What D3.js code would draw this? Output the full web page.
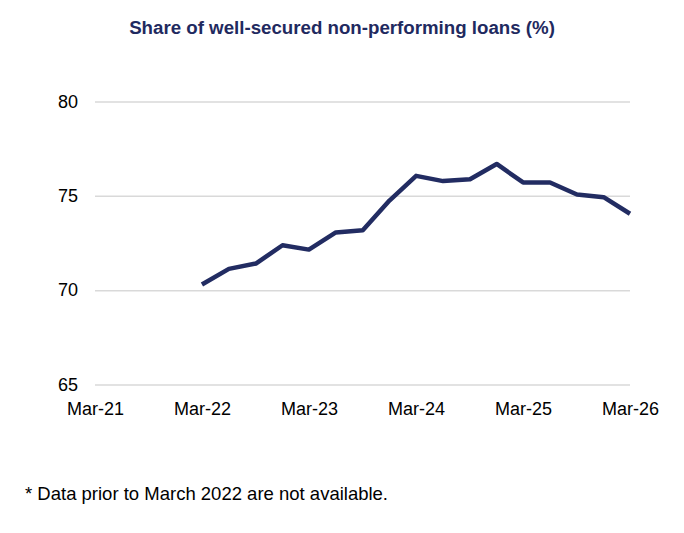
<!DOCTYPE html>
<html>
<head>
<meta charset="utf-8">
<script src="https://cdn.jsdelivr.net/npm/d3@7"></script>
<style>
  body { margin: 0; background: #fff; }
  svg text { font-family: "Liberation Sans", Arial, sans-serif; }
</style>
</head>
<body>
<svg id="chart" width="684" height="533"></svg>
<script>
// quarterly data, Mar-22 to Mar-26
const quarters = ["2022-03", "2022-06", "2022-09", "2022-12", "2023-03", "2023-06", "2023-09", "2023-12",
    "2024-03", "2024-06", "2024-09", "2024-12", "2025-03", "2025-06", "2025-09", "2025-12", "2026-03"];
const shareValues = [70.3, 71.13, 71.41, 72.38, 72.15, 73.06, 73.17, 74.75,
    76.06, 75.78, 75.88, 76.69, 75.71, 75.71, 75.07, 74.93, 74.05];
const yTicks = [65, 70, 75, 80];
const xTickLabels = ["Mar-21", "Mar-22", "Mar-23", "Mar-24", "Mar-25", "Mar-26"];

const svg = d3.select("svg#chart");
const navy = "#222c62";
const parse = d3.timeParse("%Y-%m");

const x = d3.scaleTime()
    .domain([parse("2021-03"), parse("2026-03")])
    .range([95, 630]);
const y = d3.scaleLinear()
    .domain([65, 80])
    .range([384.5, 101.5]);

// title
svg.append("text")
    .text("Share of well-secured non-performing loans (%)")
    .attr("x", 342)
    .attr("y", 34)
    .attr("text-anchor", "middle")
    .style("font-size", "18.7px")
    .style("font-weight", "bold")
    .attr("fill", "#1f2a60");

// gridlines + y labels
const yAxis = svg.append("g")
    .attr("transform", "translate(95,0)")
    .call(d3.axisLeft(y).tickValues(yTicks).tickSize(-535).tickPadding(17));
yAxis.select(".domain").remove();
yAxis.selectAll(".tick line").attr("stroke", "#d9d9d9").attr("stroke-width", 1.5);
yAxis.selectAll(".tick text")
    .style("font-size", "18px")
    .attr("fill", "#000");

// x labels
const xTicks = xTickLabels.map((d) => d3.timeParse("%b-%y")(d));
const xAxis = svg.append("g")
    .attr("transform", "translate(0,384.5)")
    .call(d3.axisBottom(x).tickValues(xTicks).tickSize(0).tickPadding(18)
        .tickFormat((d, i) => xTickLabels[i]));
xAxis.select(".domain").remove();
xAxis.selectAll(".tick text")
    .style("font-size", "18px")
    .attr("fill", "#000");

// line
const line = d3.line()
    .x((d, i) => x(parse(quarters[i])))
    .y((d) => y(d));
svg.append("path")
    .datum(shareValues)
    .attr("d", line)
    .attr("fill", "none")
    .attr("stroke", navy)
    .attr("stroke-width", 4.5)
    .attr("stroke-linejoin", "round");

// footnote
svg.append("text")
    .text("* Data prior to March 2022 are not available.")
    .attr("x", 25)
    .attr("y", 500)
    .style("font-size", "18.5px")
    .attr("fill", "#000");
</script>
</body>
</html>
